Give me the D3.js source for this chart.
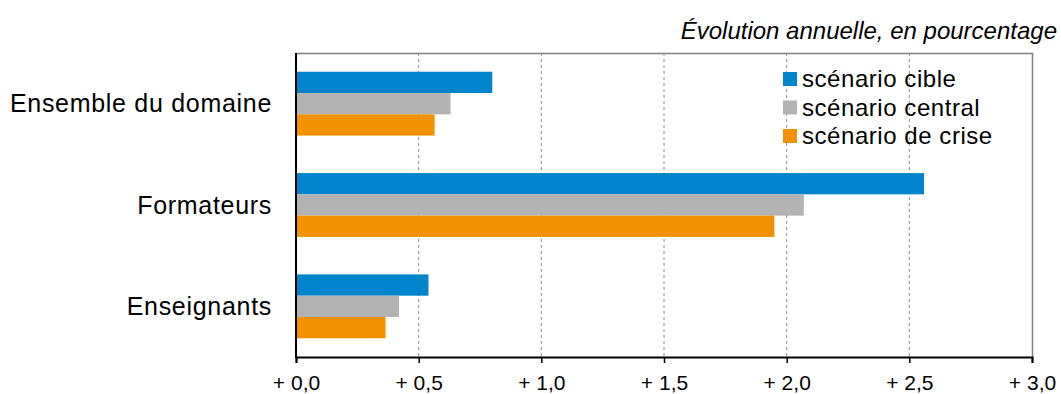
<!DOCTYPE html>
<html>
  <head>
    <meta charset="utf-8">
    <style>
      body { margin: 0; background: white; }
      text { font-family: "Liberation Sans", Arial, sans-serif; }
    </style>
    <script src="https://d3js.org/d3.v7.min.js"></script>
  </head>
  <body>
    <script>
    var categories = ["Ensemble du domaine", "Formateurs", "Enseignants"];
    var series = ["scénario cible", "scénario central", "scénario de crise"];
    var colors = ["#0085cc", "#b3b3b3", "#f39200"];
    // valeurs par catégorie, dans l'ordre des séries
    var cible = [0.80, 2.56, 0.54];
    var central = [0.63, 2.07, 0.42];
    var crise = [0.565, 1.95, 0.365];
    var xTicks = [0, 0.5, 1, 1.5, 2, 2.5, 3];
    var values = [cible, central, crise];

    var width = 1061, height = 394;
    var margin = {top: 53, right: 29, bottom: 37, left: 296};

    var svg = d3.select("body").append("svg")
      .attr("width", width)
      .attr("height", height);

    var x = d3.scaleLinear().domain([0, 3]).range([margin.left, width - margin.right]);
    var y = d3.scaleBand().domain(categories)
      .range([margin.top, height - margin.bottom])
      .paddingInner(0.37).paddingOuter(0.185);
    var ySub = d3.scaleBand().domain(d3.range(series.length)).range([0, y.bandwidth()]);

    // grille
    svg.append("g")
      .selectAll("line")
      .data(xTicks.slice(1, -1))
      .enter().append("line")
      .attr("x1", d => x(d)).attr("x2", d => x(d))
      .attr("y1", margin.top).attr("y2", height - margin.bottom)
      .attr("stroke", "#8c8c8c")
      .attr("stroke-width", 1)
      .attr("stroke-dasharray", "3,3");

    // cadre haut et droit
    svg.append("path")
      .attr("d", "M" + x(0) + "," + (margin.top + 0.5) + "H" + (x(3) + 0.5) + "V" + (height - margin.bottom))
      .attr("fill", "none")
      .attr("stroke", "#7f7f7f")
      .attr("stroke-width", 1.5);

    // barres
    var group = svg.append("g")
      .selectAll("g")
      .data(categories)
      .enter().append("g")
      .attr("transform", d => "translate(0," + y(d) + ")");

    group.selectAll("rect")
      .data((d, i) => values.map((s, j) => ({s: j, v: s[i]})))
      .enter().append("rect")
      .attr("x", x(0))
      .attr("y", d => ySub(d.s))
      .attr("width", d => x(d.v) - x(0))
      .attr("height", ySub.bandwidth())
      .attr("fill", d => colors[d.s]);

    // axe x
    var xAxis = svg.append("g")
      .attr("transform", "translate(0," + (height - margin.bottom) + ")")
      .call(d3.axisBottom(x).tickValues(xTicks).tickSize(6).tickPadding(12)
        .tickFormat(d => "+ " + d3.format(".1f")(d).replace(".", ",")));
    xAxis.select(".domain").attr("stroke", "#000").attr("stroke-width", 2);
    xAxis.selectAll(".tick line").attr("stroke", "#000").attr("stroke-width", 1.5);
    xAxis.selectAll(".tick text")
      .attr("fill", "#000")
      .style("font-size", "21px")
      .style("font-family", "'Liberation Sans', sans-serif");

    // axe y
    svg.append("line")
      .attr("x1", x(0)).attr("x2", x(0))
      .attr("y1", margin.top).attr("y2", height - margin.bottom + 1)
      .attr("stroke", "#000").attr("stroke-width", 2);

    svg.append("g")
      .selectAll("text")
      .data(categories)
      .enter().append("text")
      .attr("x", 272)
      .attr("y", d => y(d) + y.bandwidth() / 2)
      .attr("dy", "0.35em")
      .attr("text-anchor", "end")
      .style("font-size", "25px")
      .style("letter-spacing", "0.7px")
      .attr("fill", "#000")
      .text(d => d);

    // légende
    var legend = svg.append("g")
      .selectAll("g")
      .data(series)
      .enter().append("g")
      .attr("transform", (d, i) => "translate(783," + (79 + i * 28.5) + ")");
    legend.append("rect")
      .attr("x", 0).attr("y", -7)
      .attr("width", 14).attr("height", 14)
      .attr("fill", (d, i) => colors[i]);
    legend.append("text")
      .attr("x", 19)
      .attr("dy", "0.35em")
      .style("font-size", "24px")
      .style("letter-spacing", "0.55px")
      .attr("fill", "#000")
      .text(d => d);

    // titre
    svg.append("text")
      .attr("x", 1057)
      .attr("y", 39)
      .attr("text-anchor", "end")
      .style("font-size", "24px")
      .style("font-style", "italic")
      .attr("fill", "#000")
      .text("Évolution annuelle, en pourcentage");
    </script>
  </body>
</html>
